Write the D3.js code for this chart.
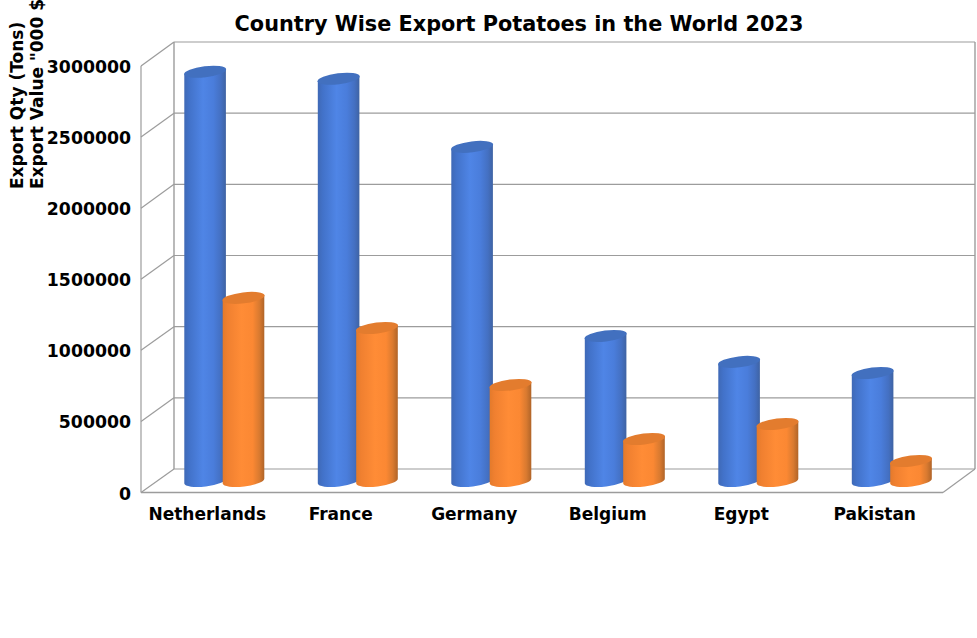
<!DOCTYPE html>
<html><head><meta charset="utf-8">
<script src="https://cdn.jsdelivr.net/npm/d3@7"></script>
<style>html,body{margin:0;padding:0;background:#fff}svg{display:block}text{font-family:"DejaVu Sans",sans-serif;font-weight:bold;fill:#000}</style>
</head><body><svg id="c" width="977" height="638"></svg>
<script>
const categories=["Netherlands","France","Germany","Belgium","Egypt","Pakistan"];
const exportQty=[2872000,2823000,2345000,1018000,836000,758000];
const exportValue=[1285000,1074000,674000,295000,400000,140000];
const yTicks=[0,500000,1000000,1500000,2000000,2500000,3000000];
const titleText="Country Wise Export Potatoes in the World 2023";
const axisTitles=["Export Qty (Tons)",'Export Value "000 $'];

const svg=d3.select("#c");
const yBack=d3.scaleLinear().domain([0,3000000]).range([469,42]);
const yFront=d3.scaleLinear().domain([0,3000000]).range([492.5,66]);
const yBar=d3.scaleLinear().domain([0,3000000]).range([481,53.5]);
const x=d3.scaleBand().domain(categories).range([140,941]).padding(0);
const wallL=174,wallR=975,frontL=141,frontR=943;
const grey="#9c9c9c";

const defs=svg.append("defs");
function grad(id,stops){
  const g=defs.append("linearGradient").attr("id",id);
  stops.forEach(([o,c])=>g.append("stop").attr("offset",o).attr("stop-color",c));
}
grad("blue",[[0,"#3f69b6"],[.12,"#4272c9"],[.45,"#4f85e6"],[.7,"#4a7ddb"],[.88,"#4470c2"],[1,"#3f63a3"]]);
grad("orange",[[0,"#e37a2b"],[.12,"#f08030"],[.45,"#ff8c36"],[.72,"#fb8833"],[.88,"#d97a30"],[1,"#b06428"]]);

yTicks.forEach(t=>{
  svg.append("line").attr("x1",wallL).attr("x2",wallR).attr("y1",yBack(t)).attr("y2",yBack(t)).attr("stroke",grey).attr("stroke-width",1.2);
  svg.append("line").attr("x1",wallL).attr("x2",frontL).attr("y1",yBack(t)).attr("y2",yFront(t)).attr("stroke",grey).attr("stroke-width",1.2);
  svg.append("text").attr("x",131).attr("y",yFront(t)+0.8).attr("dy","0.36em").attr("text-anchor","end").attr("font-size",17.3).text(d3.format("d")(t));
});
svg.append("line").attr("x1",wallL).attr("x2",wallL).attr("y1",yBack(3000000)).attr("y2",yBack(0)).attr("stroke",grey).attr("stroke-width",1.4);
svg.append("line").attr("x1",frontL).attr("x2",frontL).attr("y1",yFront(3000000)).attr("y2",yFront(0)).attr("stroke",grey).attr("stroke-width",1.2);
svg.append("line").attr("x1",wallR).attr("x2",wallR).attr("y1",yBack(3000000)).attr("y2",yBack(0)).attr("stroke",grey).attr("stroke-width",1.4);
svg.append("line").attr("x1",frontL).attr("x2",frontR).attr("y1",yFront(0)).attr("y2",yFront(0)).attr("stroke",grey).attr("stroke-width",1.4);
svg.append("line").attr("x1",frontR).attr("x2",wallR).attr("y1",yFront(0)).attr("y2",yBack(0)).attr("stroke",grey).attr("stroke-width",1.2);

const rx=20.8,ry=5.5,rot=-7,dy=2.6;
function cyl(cx,v,fill,cap){
  const yt=yBar(v),yb=yBar(0);
  const g=svg.append("g");
  g.append("path").attr("fill",`url(#${fill})`)
   .attr("d",`M${cx-rx},${yt+dy}L${cx-rx},${yb+dy}A${rx},${ry} ${rot} 0 0 ${cx+rx},${yb-dy}L${cx+rx},${yt-dy}Z`);
  g.append("ellipse").attr("transform",`translate(${cx},${yt}) rotate(${rot})`).attr("rx",rx+.4).attr("ry",ry).attr("fill",cap);
}
categories.forEach((c,i)=>{
  const bx=x(c)+x.bandwidth()/2;
  cyl(bx-1.65,exportQty[i],"blue","#4270bf");
  cyl(bx+36.75,exportValue[i],"orange","#e37c2e");
  svg.append("text").attr("x",bx+0.5).attr("y",520).attr("text-anchor","middle").attr("font-size",17).text(c);
});

svg.append("text").attr("x",519).attr("y",31).attr("text-anchor","middle").attr("font-size",20.8).text(titleText);
axisTitles.forEach((t,i)=>{
  svg.append("text").attr("transform",`translate(${22.5+i*20},189) rotate(-90)`).attr("font-size",17).text(t);
});
</script></body></html>
